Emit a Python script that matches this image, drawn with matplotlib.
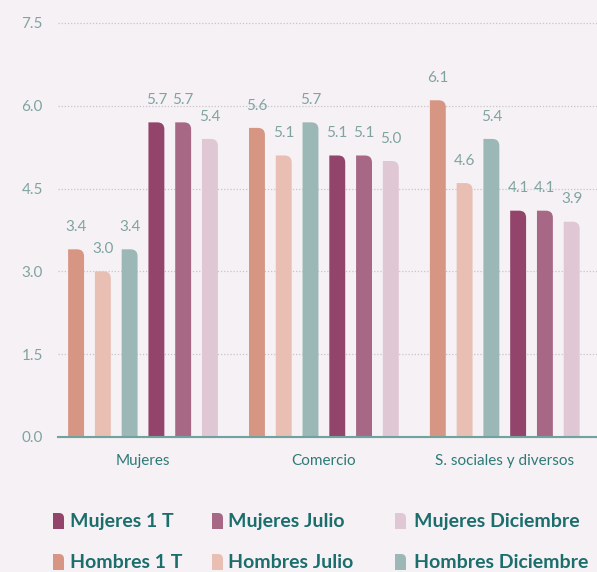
import matplotlib

matplotlib.use("Agg")
import matplotlib.pyplot as plt
import numpy as np
from matplotlib.path import Path
from matplotlib.patches import PathPatch

# Bar order inside each group: Hombres first, then Mujeres
CATEGORIES = ["Mujeres", "Comercio", "S. sociales y diversos"]
SERIES = ["Hombres 1 T", "Hombres Julio", "Hombres Diciembre",
          "Mujeres 1 T", "Mujeres Julio", "Mujeres Diciembre"]
VALUES = {
    "Hombres 1 T":       [3.4, 5.6, 6.1],
    "Hombres Julio":     [3.0, 5.1, 4.6],
    "Hombres Diciembre": [3.4, 5.7, 5.4],
    "Mujeres 1 T":       [5.7, 5.1, 4.1],
    "Mujeres Julio":     [5.7, 5.1, 4.1],
    "Mujeres Diciembre": [5.4, 5.0, 3.9],
}
COLORS = {
    "Hombres 1 T": "#d79683",
    "Hombres Julio": "#e9bfb4",
    "Hombres Diciembre": "#9bb7b6",
    "Mujeres 1 T": "#93446b",
    "Mujeres Julio": "#a76886",
    "Mujeres Diciembre": "#e0c7d4",
}
YTICKS = [0.0, 1.5, 3.0, 4.5, 6.0, 7.5]
LEGEND_ROWS = [["Mujeres 1 T", "Mujeres Julio", "Mujeres Diciembre"],
               ["Hombres 1 T", "Hombres Julio", "Hombres Diciembre"]]

BG = "#f6f1f5"
TICK_INK = "#7fa4a0"
CAT_INK = "#2d7a77"
LEG_INK = "#1b6e6c"
FONT = "Lato"

W, H, DPI = 5.97, 5.72, 100
fig = plt.figure(figsize=(W, H), dpi=DPI, facecolor=BG)
ax = fig.add_axes([58 / 597, (572 - 437) / 572, 1 - 58 / 597, (437 - 23) / 572])
ax.set_facecolor(BG)
ax.set_xlim(-0.47, 2.51)
ax.set_ylim(0, 7.5)

pitch, width = 0.148, 0.088
x = np.arange(len(CATEGORIES))

CODES = [Path.MOVETO, Path.LINETO, Path.LINETO, Path.CURVE3, Path.CURVE3,
         Path.LINETO, Path.CLOSEPOLY]


def corner_path(x0, y0, w, h, rx, ry):
    # rectangle with only the top-right corner rounded
    verts = [(x0, y0), (x0, y0 + h), (x0 + w - rx, y0 + h), (x0 + w, y0 + h),
             (x0 + w, y0 + h - ry), (x0 + w, y0), (x0, y0)]
    return Path(verts, CODES)


# corner radius of ~7 px expressed in data units
inv = ax.transData.inverted()
rx, ry = inv.transform((7, 7)) - inv.transform((0, 0))

for i, name in enumerate(SERIES):
    xs = x + (i - 2.5) * pitch
    for xc, v in zip(xs, VALUES[name]):
        ax.add_patch(PathPatch(corner_path(xc - width / 2, 0, width, v, rx, ry),
                               facecolor=COLORS[name], edgecolor="none", zorder=3))
        ax.annotate(f"{v:.1f}", (xc, v), xytext=(0, 16), textcoords="offset points",
                    ha="center", va="center", fontsize=11, color=TICK_INK,
                    family=FONT, zorder=4)

ax.set_yticks(YTICKS)
ax.set_yticklabels([f"{t:.1f}" for t in YTICKS], family=FONT, fontsize=11,
                   color=TICK_INK)
ax.grid(axis="y", color="#c9c4c8", ls=(0, (1, 1.5)), lw=0.9, zorder=0)
for t in ax.get_ygridlines():
    t.set_clip_on(False)
ax.set_xticks(x)
ax.set_xticklabels(CATEGORIES, family=FONT, fontsize=11, color=CAT_INK)
ax.tick_params(axis="y", length=0, pad=11)
ax.tick_params(axis="x", length=0, pad=12)
for side in ("top", "right", "left"):
    ax.spines[side].set_visible(False)
ax.spines["bottom"].set_color("#6fa3a0")
ax.spines["bottom"].set_linewidth(1.5)
ax.spines["bottom"].set_zorder(5)

# legend: two rows of swatches with the same rounded corner, placed in inches
swatch_x = [0.53, 2.12, 3.95]
text_x = [0.70, 2.28, 4.14]
row_y = [0.51, 0.10]
sw, sh, r = 0.11, 0.16, 0.05
for row, names in zip(row_y, LEGEND_ROWS):
    for sx, tx, name in zip(swatch_x, text_x, names):
        fig.add_artist(PathPatch(corner_path(sx, row - sh / 2, sw, sh, r, r),
                                 facecolor=COLORS[name], edgecolor="none",
                                 transform=fig.dpi_scale_trans))
        fig.text(tx, row, name, transform=fig.dpi_scale_trans,
                 ha="left", va="center", fontsize=14, fontweight="bold",
                 color=LEG_INK, family=FONT)

fig.savefig("out.png", dpi=DPI, facecolor=BG)
